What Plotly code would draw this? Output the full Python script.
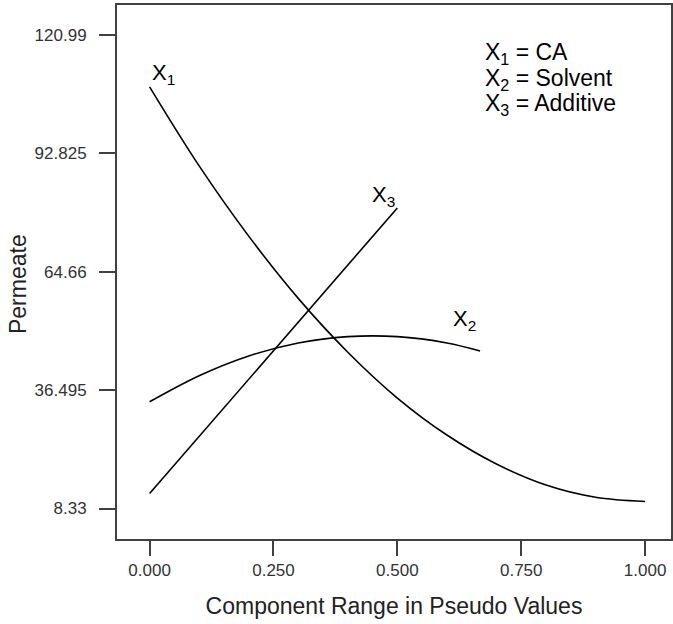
import plotly.graph_objects as go

# ---- data ----
x1_x = [0.0, 0.1, 0.2, 0.3, 0.4, 0.5, 0.6, 0.7, 0.8, 0.9, 1.0]
x1_y = [108.6, 89.8, 73.1, 58.3, 45.5, 34.6, 25.8, 18.9, 13.9, 11.0, 10.0]

x2_x = [0.0, 0.1, 0.2, 0.3, 0.4, 0.5, 0.6, 0.667]
x2_y = [33.7, 39.9, 44.6, 47.7, 49.2, 49.2, 47.7, 45.8]

x3_x = [0.0, 0.5]
x3_y = [11.9, 79.8]

x_tickvals = [0.0, 0.25, 0.5, 0.75, 1.0]
x_ticktext = ["0.000", "0.250", "0.500", "0.750", "1.000"]
y_tickvals = [8.33, 36.495, 64.66, 92.825, 120.99]
y_ticktext = ["8.33", "36.495", "64.66", "92.825", "120.99"]

legend_lines = ["X<sub>1</sub> = CA", "X<sub>2</sub> = Solvent", "X<sub>3</sub> = Additive"]

FONT = "Liberation Sans, Arial, sans-serif"
AXCOL = "#404040"

fig = go.Figure()
for xs, ys in [(x1_x, x1_y), (x2_x, x2_y), (x3_x, x3_y)]:
    fig.add_trace(go.Scatter(x=xs, y=ys, mode="lines",
                             line=dict(color="black", width=1.6, shape="spline"),
                             showlegend=False, hoverinfo="skip"))

ann = []
# curve labels
for txt, xx, yy in [("X<sub>1</sub>", 0.0, 111.6), ("X<sub>3</sub>", 0.444, 82.6), ("X<sub>2</sub>", 0.608, 53.2)]:
    ann.append(dict(x=xx, y=yy, xref="x", yref="y", text=txt, showarrow=False,
                    xanchor="left", yanchor="middle",
                    font=dict(family=FONT, size=22, color="black")))
# legend block
for txt, yy in zip(legend_lines, [116.6, 110.4, 104.3]):
    ann.append(dict(x=0.672, y=yy, xref="x", yref="y", text=txt, showarrow=False,
                    xanchor="left", yanchor="middle",
                    font=dict(family=FONT, size=23, color="black")))
# y axis title
ann.append(dict(x=-0.18, y=0.478, xref="paper", yref="paper", text="Permeate",
                showarrow=False, textangle=-90, xanchor="center", yanchor="middle",
                font=dict(family=FONT, size=23, color="#222")))

fig.update_layout(
    width=673, height=624,
    margin=dict(l=117, r=0, t=5, b=85),
    paper_bgcolor="white", plot_bgcolor="white",
    font=dict(family=FONT, color="#333"),
    annotations=ann,
    xaxis=dict(range=[-0.0658, 1.0523], tickvals=x_tickvals, ticktext=x_ticktext,
               showgrid=False, zeroline=False, showline=True, mirror=True,
               linecolor=AXCOL, linewidth=2, ticks="outside", ticklen=15,
               tickwidth=2, tickcolor=AXCOL, tickfont=dict(size=17, color="#333"),
               title=dict(text="Component Range in Pseudo Values",
                          font=dict(size=23, color="#222"), standoff=18)),
    yaxis=dict(range=[1.08, 128.06], tickvals=y_tickvals, ticktext=y_ticktext,
               showgrid=False, zeroline=False, showline=True, mirror=True,
               linecolor=AXCOL, linewidth=2, ticks="outside", ticklen=16,
               tickwidth=2, tickcolor=AXCOL, tickfont=dict(size=17, color="#333"),
               ticklabelstandoff=9),
)

fig.write_html("out.html")
